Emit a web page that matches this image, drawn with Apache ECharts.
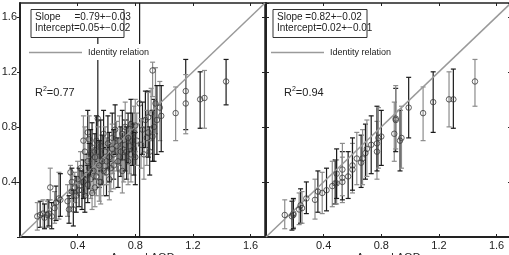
<!DOCTYPE html>
<html>
<head>
<meta charset="utf-8">
<script src="https://cdn.jsdelivr.net/npm/echarts@6/dist/echarts.min.js"></script>
<style>
  html, body { margin: 0; padding: 0; background: #fff; }
  #chart { width: 509px; height: 255px; }
</style>
</head>
<body>
<div id="chart"></div>
<script>
// tick labels shared by both panels
const tickLabels = ['0.4', '0.8', '1.2', '1.6'];

// left panel: [aerosol AOD, model AOD, lower end, upper end]
const leftPoints = [
  [0.12,0.15,0.05,0.25],[0.14,0.16,0.07,0.26],[0.16,0.17,0.07,0.27],[0.17,0.14,0.06,0.24],
  [0.19,0.16,0.07,0.26],[0.20,0.17,0.08,0.27],[0.21,0.36,0.27,0.50],[0.22,0.15,0.06,0.25],
  [0.24,0.21,0.10,0.33],[0.25,0.25,0.12,0.37],[0.27,0.28,0.13,0.47],[0.28,0.27,0.15,0.46],
  [0.33,0.26,0.15,0.38],[0.34,0.20,0.10,0.30],[0.35,0.47,0.32,0.52],[0.36,0.40,0.28,0.50],
  [0.36,0.33,0.22,0.45],[0.37,0.20,0.08,0.34],[0.38,0.36,0.25,0.47],[0.39,0.30,0.18,0.44],
  [0.40,0.42,0.30,0.55],[0.41,0.34,0.22,0.50],[0.42,0.50,0.38,0.62],[0.43,0.34,0.20,0.48],
  [0.44,0.70,0.52,0.88],[0.44,0.40,0.28,0.56],[0.45,0.62,0.45,0.80],[0.45,0.30,0.18,0.44],
  [0.46,0.45,0.30,0.60],[0.47,0.76,0.60,0.92],[0.47,0.55,0.40,0.72],[0.47,0.38,0.25,0.52],
  [0.48,0.71,0.55,0.88],[0.48,0.50,0.35,0.68],[0.49,0.42,0.28,0.58],[0.49,0.60,0.45,0.78],
  [0.50,0.32,0.20,0.48],[0.50,0.65,0.48,0.83],[0.51,0.48,0.32,0.65],[0.52,0.58,0.42,0.75],
  [0.52,0.36,0.22,0.52],[0.53,0.70,0.52,0.88],[0.53,0.44,0.30,0.60],[0.54,0.86,0.55,1.45],
  [0.54,0.62,0.45,0.80],[0.55,0.52,0.36,0.70],[0.55,0.40,0.26,0.56],[0.56,0.66,0.48,0.85],
  [0.56,0.40,0.24,0.55],[0.57,0.55,0.38,0.74],[0.58,0.48,0.30,0.65],[0.58,0.75,0.58,0.92],
  [0.59,0.62,0.45,0.80],[0.60,0.47,0.30,0.65],[0.60,0.55,0.38,0.72],[0.61,0.68,0.50,0.88],
  [0.62,0.42,0.27,0.58],[0.62,0.58,0.40,0.76],[0.63,0.50,0.33,0.68],[0.64,0.72,0.55,0.90],
  [0.64,0.64,0.46,0.82],[0.65,0.60,0.42,0.78],[0.65,0.52,0.35,0.70],[0.66,0.78,0.60,0.96],
  [0.67,0.66,0.48,0.84],[0.68,0.55,0.36,0.72],[0.69,0.70,0.52,0.88],[0.70,0.62,0.44,0.80],
  [0.71,0.48,0.32,0.65],[0.71,0.75,0.56,0.92],[0.72,0.58,0.40,0.76],[0.73,0.67,0.48,0.85],
  [0.73,0.80,0.62,0.98],[0.74,0.62,0.42,0.80],[0.75,0.55,0.38,0.72],[0.75,0.72,0.54,0.90],
  [0.76,0.66,0.46,0.84],[0.77,0.82,0.62,1.00],[0.77,0.60,0.40,0.78],[0.78,0.70,0.52,0.90],
  [0.79,0.76,0.58,0.95],[0.79,0.64,0.45,0.82],[0.80,0.81,0.62,1.00],[0.80,0.58,0.38,0.76],
  [0.81,0.70,0.52,0.90],[0.83,0.97,-0.10,2.00],[0.84,0.67,0.50,0.86],[0.85,0.78,0.60,0.98],
  [0.86,0.60,0.42,0.80],[0.87,0.85,0.65,1.06],[0.88,0.72,0.52,0.92],[0.89,0.76,0.58,1.06],
  [0.89,0.87,0.70,1.05],[0.90,0.62,0.45,0.80],[0.91,0.90,0.70,1.08],[0.92,0.73,0.55,0.92],
  [0.92,1.21,1.02,1.27],[0.93,0.80,0.55,1.00],[0.94,0.97,0.75,1.23],[0.95,0.85,0.60,1.10],
  [0.97,0.94,0.70,1.13],[0.98,0.88,0.62,1.10],[1.08,0.90,0.70,1.09],[1.15,1.06,0.78,1.29],
  [1.15,0.97,0.75,1.18],[1.25,1.00,0.79,1.20],[1.28,1.01,0.79,1.21],[1.43,1.13,0.96,1.29]
];

// right panel
const rightPoints = [
  [0.13,0.16,0.06,0.27],[0.18,0.15,0.05,0.26],[0.19,0.16,0.07,0.27],[0.19,0.17,0.06,0.28],
  [0.23,0.20,0.09,0.32],[0.24,0.23,0.10,0.35],[0.25,0.21,0.10,0.33],[0.28,0.28,0.17,0.40],
  [0.34,0.27,0.13,0.42],[0.36,0.33,0.18,0.48],[0.39,0.32,0.17,0.47],[0.42,0.34,0.19,0.50],
  [0.46,0.37,0.22,0.55],[0.48,0.39,0.24,0.56],[0.49,0.39,0.24,0.56],[0.49,0.46,0.28,0.64],
  [0.53,0.40,0.25,0.58],[0.53,0.43,0.27,0.62],[0.53,0.49,0.30,0.68],[0.57,0.44,0.28,0.62],
  [0.60,0.49,0.32,0.68],[0.60,0.52,0.34,0.72],[0.63,0.57,0.38,0.76],[0.66,0.54,0.36,0.74],
  [0.67,0.57,0.38,0.78],[0.69,0.61,0.42,0.82],[0.70,0.64,0.44,0.85],[0.73,0.67,0.46,0.88],
  [0.77,0.62,0.42,0.84],[0.77,0.68,0.48,0.95],[0.78,0.72,0.50,0.94],[0.80,0.73,0.52,0.92],
  [0.89,0.75,0.55,0.98],[0.90,0.85,0.62,1.08],[0.90,0.86,0.64,1.10],[0.93,0.70,0.48,0.92],
  [0.94,0.72,0.50,0.95],[0.99,0.94,0.72,1.16],[1.09,0.90,0.70,1.09],[1.16,0.98,0.76,1.20],
  [1.27,1.00,0.80,1.20],[1.30,1.00,0.79,1.22],[1.45,1.13,0.95,1.29]
];

const identityLine = [[0, 0], [1.7, 1.7]];
const leftStats = { slope: 'Slope     =0.79+\u22120.03', intercept: 'Intercept=0.05+\u22120.02', r2: '0.77' };
const rightStats = { slope: 'Slope =0.82+\u22120.02', intercept: 'Intercept=0.02+\u22120.01', r2: '0.94' };

const font = 'Liberation Sans, Arial, sans-serif';
const axisColor = '#222';

const chart = echarts.init(document.getElementById('chart'), null, { renderer: 'canvas' });

function labelFmt(v) {
  const s = v.toFixed(1);
  return tickLabels.indexOf(s) >= 0 ? s : '';
}

// error bars: every other bar dark, the rest grey
function renderErrBar(params, api) {
  const x = api.value(0);
  const top = api.coord([x, api.value(2)]);
  const bot = api.coord([x, api.value(1)]);
  const idx = api.value(3);
  const color = idx % 2 === 1 ? '#1a1a1a' : '#8c8c8c';
  const cw = 2.5;
  const style = { stroke: color, lineWidth: 1.2, fill: null };
  return {
    type: 'group',
    children: [
      { type: 'line', shape: { x1: top[0], y1: top[1], x2: bot[0], y2: bot[1] }, style: style },
      { type: 'line', shape: { x1: top[0] - cw, y1: top[1], x2: top[0] + cw, y2: top[1] }, style: style },
      { type: 'line', shape: { x1: bot[0] - cw, y1: bot[1], x2: bot[0] + cw, y2: bot[1] }, style: style }
    ]
  };
}

function panelAxes(gi, showYLabels) {
  const xBottom = {
    gridIndex: gi, type: 'value', min: 0, max: 1.7, interval: 0.4, position: 'bottom',
    name: 'Aerosol AOD', nameLocation: 'middle', nameGap: 15, nameMoveOverlap: false,
    nameTextStyle: { fontFamily: font, fontSize: 11, color: '#222', verticalAlign: 'top' },
    axisLine: { show: true, onZero: false, lineStyle: { color: axisColor, width: 2 } },
    axisTick: { show: true, inside: true, length: 3, lineStyle: { color: axisColor } },
    axisLabel: { formatter: labelFmt, showMaxLabel: false, fontFamily: font, fontSize: 11, color: '#222', margin: 3 },
    splitLine: { show: false }
  };
  const xTop = {
    gridIndex: gi, type: 'value', min: 0, max: 1.7, interval: 0.4, position: 'top',
    axisLine: { show: true, onZero: false, lineStyle: { color: axisColor, width: 1.5 } },
    axisTick: { show: true, inside: true, length: 3, lineStyle: { color: axisColor } },
    axisLabel: { show: false }, splitLine: { show: false }
  };
  const yLeft = {
    gridIndex: gi, type: 'value', min: 0, max: 1.7, interval: 0.4, position: 'left',
    axisLine: { show: true, onZero: false, lineStyle: { color: axisColor, width: 2 } },
    axisTick: { show: true, inside: !showYLabels, length: 3, lineStyle: { color: axisColor } },
    axisLabel: { show: showYLabels, formatter: labelFmt, showMaxLabel: false, fontFamily: font, fontSize: 11, color: '#222', margin: 3 },
    splitLine: { show: false }
  };
  const yRight = {
    gridIndex: gi, type: 'value', min: 0, max: 1.7, interval: 0.4, position: 'right',
    axisLine: { show: true, onZero: false, lineStyle: { color: axisColor, width: 1.5 } },
    axisTick: { show: true, inside: true, length: 3, lineStyle: { color: axisColor } },
    axisLabel: { show: false }, splitLine: { show: false }
  };
  return { x: [xBottom, xTop], y: [yLeft, yRight] };
}

function panelSeries(points, xi, yi) {
  return [
    {
      type: 'line', xAxisIndex: xi, yAxisIndex: yi, data: identityLine, symbol: 'none', clip: true,
      lineStyle: { color: '#9a9a9a', width: 1.5 }, z: 3, silent: true, animation: false
    },
    {
      type: 'custom', xAxisIndex: xi, yAxisIndex: yi, clip: true, renderItem: renderErrBar,
      data: points.map((p, i) => [p[0], p[2], p[3], i]), encode: { x: 0, y: [1, 2] }, z: 2, animation: false
    },
    {
      type: 'scatter', xAxisIndex: xi, yAxisIndex: yi, symbol: 'circle', symbolSize: 5.5, clip: true,
      data: points.map(p => [p[0], p[1]]),
      itemStyle: { color: 'rgba(255,255,255,0)', borderColor: '#3a3a3a', borderWidth: 1 }, z: 4, animation: false
    }
  ];
}

function legendGraphics(x0, stats, boxW, r2x) {
  const z = 100;
  return [
    { type: 'rect', z: z, shape: { x: x0 - 5, y: 44, width: 132, height: 16 }, style: { fill: '#fff' } },
    { type: 'line', z: z + 1, shape: { x1: x0 - 2, y1: 52.5, x2: x0 + 51, y2: 52.5 }, style: { stroke: '#9a9a9a', lineWidth: 1.5 } },
    { type: 'text', z: z + 1, x: x0 + 57, y: 52.5, style: { text: 'Identity relation', font: '9px ' + font, fill: '#222', verticalAlign: 'middle' } },
    { type: 'rect', z: z, shape: { x: x0, y: 9.5, width: boxW, height: 28 }, style: { fill: '#fff', stroke: '#333', lineWidth: 1 } },
    { type: 'text', z: z + 1, x: x0 + 4, y: 17, style: { text: stats.slope, font: '10px ' + font, fill: '#222', verticalAlign: 'middle' } },
    { type: 'text', z: z + 1, x: x0 + 4, y: 28, style: { text: stats.intercept, font: '10px ' + font, fill: '#222', verticalAlign: 'middle' } },
    {
      type: 'text', z: z + 1, x: r2x, y: 92,
      style: {
        text: '{a|R}{s|2}{a|=' + stats.r2 + '}', verticalAlign: 'middle',
        rich: {
          a: { fontFamily: font, fontSize: 11, fill: '#222', verticalAlign: 'bottom' },
          s: { fontFamily: font, fontSize: 7, fill: '#222', verticalAlign: 'top', padding: [0, 0, 6, 0] }
        }
      }
    }
  ];
}

const leftAxes = panelAxes(0, true);
const rightAxes = panelAxes(1, false);

const option = {
  backgroundColor: '#fff',
  animation: false,
  grid: [
    { left: 20, top: 3, width: 245, height: 234, containLabel: false, outerBoundsMode: 'none' },
    { left: 266, top: 3, width: 245, height: 234, containLabel: false, outerBoundsMode: 'none' }
  ],
  xAxis: [...leftAxes.x, ...rightAxes.x],
  yAxis: [...leftAxes.y, ...rightAxes.y],
  series: [
    ...panelSeries(leftPoints, 0, 0),
    ...panelSeries(rightPoints, 2, 2)
  ],
  graphic: [
    ...legendGraphics(31, leftStats, 93, 35),
    ...legendGraphics(273, rightStats, 94, 284)
  ]
};

chart.setOption(option);
</script>
</body>
</html>
